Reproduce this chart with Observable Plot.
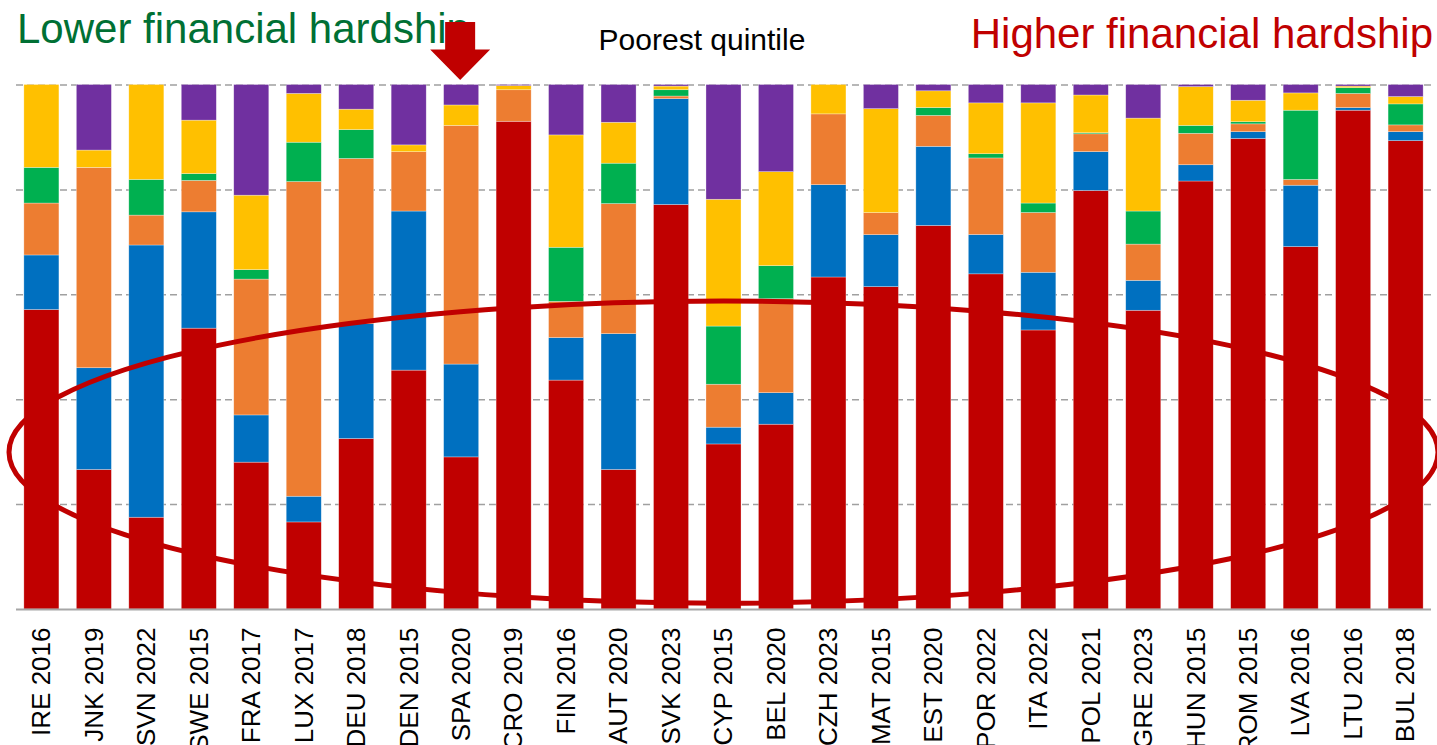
<!DOCTYPE html>
<html><head><meta charset="utf-8">
<script src="https://cdn.jsdelivr.net/npm/d3@7"></script>
<script src="https://cdn.jsdelivr.net/npm/@observablehq/plot@0.6"></script>
<style>
html,body{margin:0;padding:0;background:#fff;overflow:hidden;}
#chart svg{display:block;font-family:"Liberation Sans",Arial,sans-serif;}
</style>
</head><body><div id="chart"></div>
<script>
// Categories (country + survey year), ordered from lower to higher financial hardship
const categories = ["IRE 2016","JNK 2019","SVN 2022","SWE 2015","FRA 2017","LUX 2017","DEU 2018","DEN 2015","SPA 2020","CRO 2019","FIN 2016","AUT 2020","SVK 2023","CYP 2015","BEL 2020","CZH 2023","MAT 2015","EST 2020","POR 2022","ITA 2022","POL 2021","GRE 2023","HUN 2015","ROM 2015","LVA 2016","LTU 2016","BUL 2018"];

// Shares (%) of each segment, stacked from the bottom (red) to the top (purple)
const redShare    = [57.1,26.6,17.5,53.6,28.0,16.6,32.5,45.5,29.0,92.9,43.6,26.6,77.2,31.5,35.2,63.3,61.4,73.2,63.9,53.2,79.8,56.9,81.6,89.7,69.1,95.1,89.3];
const blueShare   = [10.4,19.4,51.9,22.2, 9.0, 4.9,21.9,30.3,17.7, 0.0, 8.1,25.9,20.2, 3.2, 6.0,17.6, 9.9,15.1, 7.5,11.0, 7.4, 5.7, 3.1, 1.3,11.7, 0.5, 1.7];
const orangeShare = [ 9.9,38.2, 5.7, 6.0,25.9,60.0,31.5,11.3,45.5, 6.0, 6.9,24.8, 0.5, 8.2,17.9,13.5, 4.2, 5.9,14.6,11.4, 3.4, 6.9, 6.0, 1.5, 1.1, 2.7, 1.3];
const greenShare  = [ 6.8, 0.0, 6.8, 1.3, 1.8, 7.5, 5.5, 0.0, 0.0, 0.0,10.3, 7.7, 1.2,11.1, 6.3, 0.0, 0.0, 1.5, 0.8, 1.8, 0.2, 6.3, 1.5, 0.4,13.2, 1.1, 4.0];
const yellowShare = [15.8, 3.3,18.1,10.2,14.2, 9.3, 3.9, 1.3, 3.9, 0.8,21.4, 7.8, 0.7,24.2,17.9, 5.6,19.8, 3.2, 9.7,19.1, 7.2,17.7, 7.4, 4.1, 3.3, 0.3, 1.4];
const purpleShare = [ 0.0,12.5, 0.0, 6.8,21.1, 1.7, 4.7,11.5, 3.9, 0.2, 9.6, 7.2, 0.3,21.9,16.6, 0.0, 4.6, 1.2, 3.5, 3.5, 2.0, 6.4, 0.4, 3.0, 1.6, 0.3, 2.3];

const seriesNames = ["Segment 1","Segment 2","Segment 3","Segment 4","Segment 5","Segment 6"];
const seriesValues = [redShare, blueShare, orangeShare, greenShare, yellowShare, purpleShare];
const seriesColors = ["#C00000","#0070C0","#ED7D31","#00B050","#FFC000","#7030A0"];
const gridTicks = [0.2, 0.4, 0.6, 0.8, 1];

const titleLeft = "Lower financial hardship";
const titleCenter = "Poorest quintile";
const titleRight = "Higher financial hardship";
const highlighted = "SPA 2020";

const rows = [];
categories.forEach((c, i) => {
  seriesNames.forEach((s, j) => rows.push({category: c, series: s, value: seriesValues[j][i]}));
});

const W = 1437, H = 745;
const plot = Plot.plot({
  width: W,
  height: H,
  marginTop: 84.5,
  marginBottom: 136,
  marginLeft: 16,
  marginRight: 6,
  style: {fontFamily: "Liberation Sans, Arial, sans-serif", background: "#fff"},
  x: {domain: categories, paddingInner: 0.332, paddingOuter: 0.15, round: false, label: null, axis: null},
  y: {domain: [0, 1], axis: null},
  color: {type: "ordinal", domain: seriesNames, range: seriesColors},
  marks: [
    Plot.ruleY(gridTicks, {stroke: "#a0a0a0", strokeWidth: 1.5, strokeDasharray: "7,4"}),
    Plot.barY(rows, {x: "category", y: "value", fill: "series", order: seriesNames, offset: "normalize",
      stroke: "#ffffff", strokeWidth: 0.6, strokeOpacity: 0.5}),
    Plot.ruleY([0], {stroke: "#a6a6a6", strokeWidth: 2}),
    Plot.axisX({tickSize: 0, tickRotate: -90, tickPadding: 18, fontSize: 26, fill: "#000", label: null})
  ]
});
document.getElementById("chart").appendChild(plot);

const svg = d3.select(plot);
const xs = plot.scale("x"), ys = plot.scale("y");
const bw = xs.bandwidth;
const xr = xs.range;

// Ellipse annotation
const cx = (xr[0] + xr[1]) / 2;
const yTop = ys.apply(0.587), yBot = ys.apply(0.011);
svg.append("ellipse")
  .attr("cx", cx).attr("cy", (yTop + yBot) / 2)
  .attr("rx", (xr[1] - xr[0]) / 2 + 7).attr("ry", (yBot - yTop) / 2)
  .attr("fill", "none").attr("stroke", "#C00000").attr("stroke-width", 5);

// Titles
svg.append("text").text(titleLeft)
  .attr("x", 17).attr("y", 43).attr("font-size", 42).attr("text-anchor", "start").attr("fill", "#007034");
svg.append("text").text(titleCenter)
  .attr("x", 702).attr("y", 50).attr("font-size", 30).attr("text-anchor", "middle").attr("fill", "#000");
svg.append("text").text(titleRight)
  .attr("x", 1433).attr("y", 48).attr("font-size", 42).attr("text-anchor", "end").attr("fill", "#C00000");

// Arrow pointing at the highlighted bar
const ax = xs.apply(highlighted) + bw / 2 - 1;
svg.append("polygon")
  .attr("points", [
    [ax - 15, 22], [ax + 15, 22], [ax + 15, 49.5], [ax + 30, 49.5],
    [ax, 80], [ax - 30, 49.5], [ax - 15, 49.5]
  ].map(p => p.join(",")).join(" "))
  .attr("fill", "#C00000");
</script>
</body></html>
